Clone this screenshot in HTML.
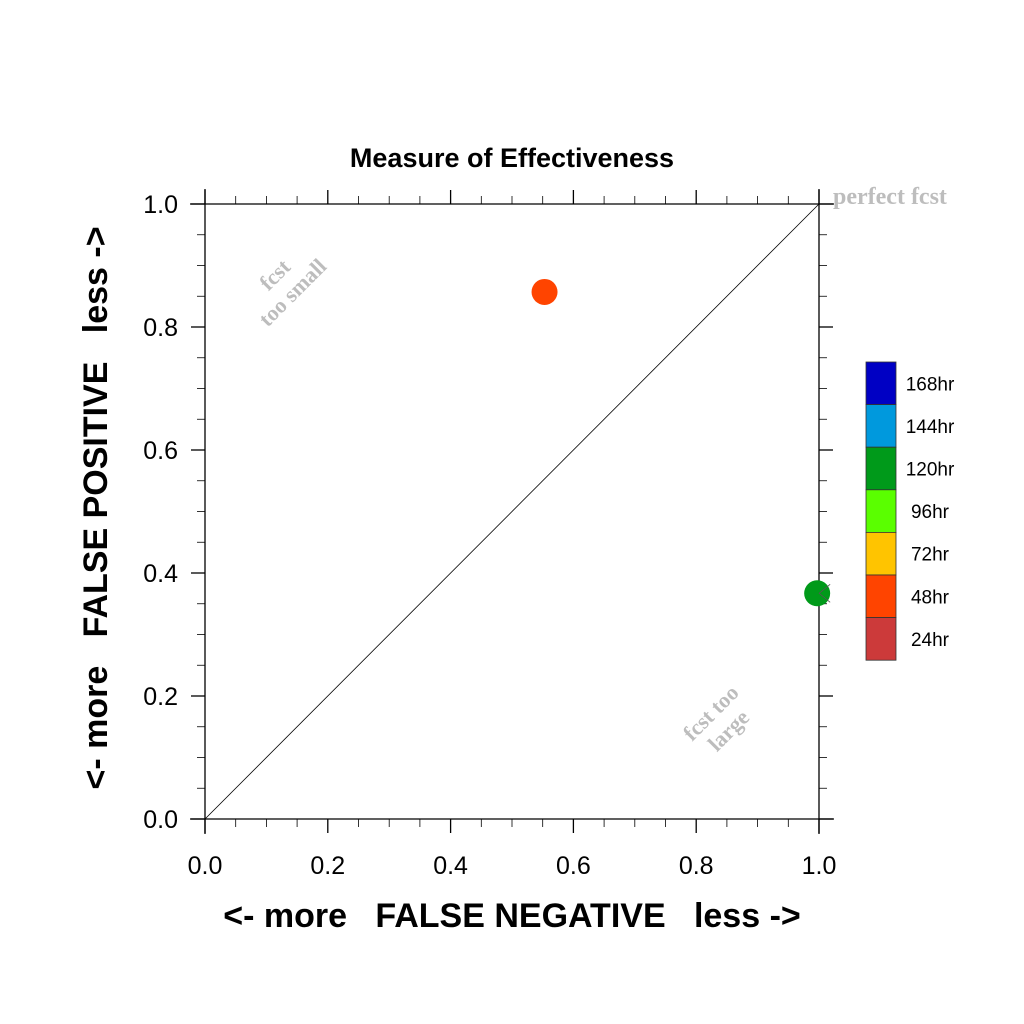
<!DOCTYPE html>
<html><head><meta charset="utf-8"><style>
body{margin:0;background:#fff}
svg{display:block;font-family:"Liberation Sans",sans-serif}
</style></head><body>
<svg id="chart" width="1024" height="1024" viewBox="0 0 1024 1024">
<text x="512" y="167" text-anchor="middle" font-size="27" font-weight="bold">Measure of Effectiveness</text>
<g id="axes"></g>
<line x1="205" y1="819" x2="819" y2="204" stroke="#000" stroke-width="0.8"/>
<text x="833" y="204" font-family="Liberation Serif,serif" font-weight="bold" font-size="24" fill="#bdbdbd">perfect fcst</text>
<text transform="translate(280,280) rotate(-45)" text-anchor="middle" font-family="Liberation Serif,serif" font-weight="bold" font-size="22" fill="#bdbdbd"><tspan x="0" y="0">fcst</tspan><tspan x="0" y="25">too small</tspan></text>
<text transform="translate(716,718) rotate(-45)" text-anchor="middle" font-family="Liberation Serif,serif" font-weight="bold" font-size="22" fill="#bdbdbd"><tspan x="0" y="0">fcst too</tspan><tspan x="0" y="25">large</tspan></text>
<g id="points"></g>
<g id="legend"></g>
<text x="512" y="927" text-anchor="middle" font-size="34" font-weight="bold" xml:space="preserve">&lt;- more   FALSE NEGATIVE   less -&gt;</text>
<text transform="translate(107,508) rotate(-90)" text-anchor="middle" font-size="34" font-weight="bold" xml:space="preserve">&lt;- more   FALSE POSITIVE   less -&gt;</text>
</svg>
<script>
const tickLabels = ["0.0","0.2","0.4","0.6","0.8","1.0"];
const pointX = [0.553, 0.997];
const pointY = [0.857, 0.367];
const pointColors = ["#ff4400", "#009a1a"];
const pointNames = ["point-48hr", "point-120hr"];
const legendLabels = ["168hr","144hr","120hr","96hr","72hr","48hr","24hr"];
const legendColors = ["#0000c4","#0099dd","#009a1a","#5aff00","#ffc400","#ff4400","#cc3a3a"];

const NS="http://www.w3.org/2000/svg";
const X0=205,X1=819,Y0=819,Y1=204;
const sx=v=>X0+v*(X1-X0), sy=v=>Y0-v*(Y0-Y1);
function mk(t,a,p){const e=document.createElementNS(NS,t);for(const k in a)e.setAttribute(k,a[k]);p.appendChild(e);return e;}
const axes=document.getElementById('axes');
let l;
l=mk('line',{x1:190,y1:Y0,x2:834,y2:Y0,stroke:'#000','stroke-width':1.3},axes);


l=mk('line',{x1:190,y1:Y1,x2:834,y2:Y1,stroke:'#000','stroke-width':1.3},axes);


l=mk('line',{x1:X0,y1:189,x2:X0,y2:834,stroke:'#000','stroke-width':1.3},axes);


l=mk('line',{x1:X1,y1:189,x2:X1,y2:834,stroke:'#000','stroke-width':1.3},axes);


for(let i=0;i<=20;i++){
  const v=i/20, major=i%4===0, len=major?14:8;
  const x=sx(v), y=sy(v);
  const segs=[[x,Y0,x,Y0+len],[x,Y1,x,Y1-len],[X0,y,X0-len,y],[X1,y,X1+len,y]];
  segs.forEach(s=>{const t=mk('line',{x1:s[0],y1:s[1],x2:s[2],y2:s[3],stroke:'#000','stroke-width':major?1.3:0.8},axes);
    
    });
}
tickLabels.forEach((lab,i)=>{
  const v=parseFloat(lab);
  const tx=mk('text',{x:sx(v),y:874,'text-anchor':'middle','font-size':25},axes);tx.textContent=lab;
  
  
  const ty=mk('text',{x:178,y:sy(v)+9,'text-anchor':'end','font-size':25},axes);ty.textContent=lab;
  
  
});
const pts=document.getElementById('points');
pointX.forEach((v,i)=>{
  const c=mk('circle',{cx:sx(v),cy:sy(pointY[i]),r:13,fill:pointColors[i]},pts);
  
  
  if(v>0.98){
    const cx=sx(v), cy=sy(pointY[i]);
    const a=mk('polyline',{points:`${cx+13},${cy-9} ${cx+2},${cy} ${cx+13},${cy+9}`,fill:'none',stroke:'#555','stroke-width':0.8},pts);
    
    
  }
});
const lg=document.getElementById('legend');
const LX=866,LY=362,LH=42.6;
legendLabels.forEach((lab,i)=>{
  const r=mk('rect',{x:LX,y:LY+i*LH,width:30,height:LH,fill:legendColors[i],stroke:'#333','stroke-width':0.8},lg);
  
  
  const t=mk('text',{x:930,y:LY+i*LH+LH/2+7,'text-anchor':'middle','font-size':19},lg);t.textContent=lab;
  
  
});
</script>
</body></html>
